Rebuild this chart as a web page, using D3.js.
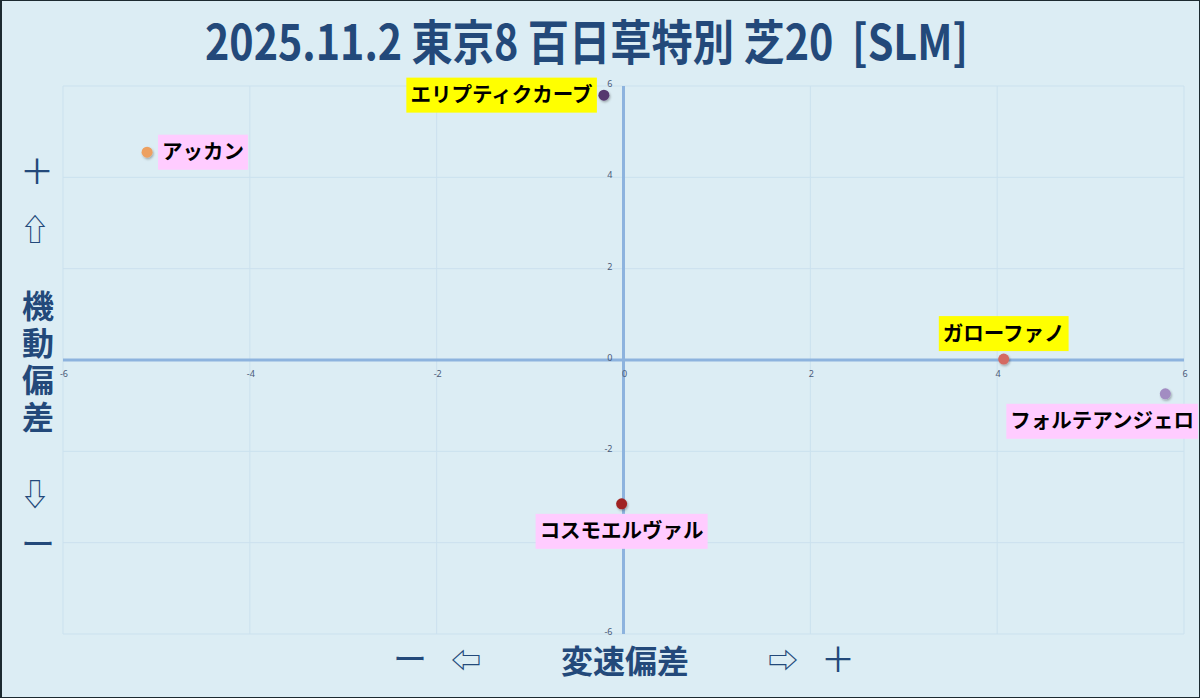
<!DOCTYPE html>
<html><head><meta charset="utf-8">
<script src="https://cdn.jsdelivr.net/npm/d3@7"></script>
<style>
html,body{margin:0;padding:0;background:#fff;}
svg{display:block;}
</style></head>
<body>
<script>
const names = ["アッカン","エリプティクカーブ","ガローファノ","フォルテアンジェロ","コスモエルヴァル"];
const xValues = [-5.10, -0.21, 4.07, 5.80, -0.02];
const yValues = [4.55, 5.80, 0.02, -0.74, -3.15];
const pointColors = ["#eda060","#55386e","#d46b62","#a28cc2","#a02420"];
const labelBg = ["#ffccff","#ffff00","#ffff00","#ffccff","#ffccff"];
const labelPlace = ["right","left","above","below","below"];
const xTicks = [-6,-4,-2,0,2,4,6];
const yTicks = [-6,-4,-2,0,2,4,6];
const title = "2025.11.2 東京8 百日草特別 芝20  [SLM]";

const W = 1200, H = 698;
const svg = d3.select("body").append("svg").attr("width", W).attr("height", H);
const defs = svg.append("defs");
const flt = defs.append("filter").attr("id","sh").attr("x","-50%").attr("y","-50%").attr("width","200%").attr("height","200%");
flt.append("feDropShadow").attr("dx",1).attr("dy",1.5).attr("stdDeviation",1).attr("flood-color","#000").attr("flood-opacity",0.3);

svg.append("rect").attr("x",0.5).attr("y",0.5).attr("width",W-1).attr("height",H-1)
  .attr("fill","#dcedf4").attr("stroke","#1c2a30").attr("stroke-width",1);
svg.append("line").attr("x1",1).attr("x2",1).attr("y1",0).attr("y2",H).attr("stroke","#1c2a30").attr("stroke-width",2);

const x = d3.scaleLinear().domain([-6,6]).range([63,1184]);
const y = d3.scaleLinear().domain([-6,6]).range([634,86]);

// grid
const g = svg.append("g");
g.selectAll(".vg").data(xTicks).enter().append("line")
  .attr("x1",d=>x(d)).attr("x2",d=>x(d)).attr("y1",y(6)).attr("y2",y(-6))
  .attr("stroke","#cbe1ee").attr("stroke-width",1);
g.selectAll(".hg").data(yTicks).enter().append("line")
  .attr("y1",d=>y(d)).attr("y2",d=>y(d)).attr("x1",x(-6)).attr("x2",x(6))
  .attr("stroke","#cbe1ee").attr("stroke-width",1);

// zero axes
g.append("line").attr("x1",x(-6)).attr("x2",x(6)).attr("y1",y(0)).attr("y2",y(0))
  .attr("stroke","#8db3de").attr("stroke-width",3);
g.append("line").attr("x1",x(0)).attr("x2",x(0)).attr("y1",y(6)).attr("y2",y(-6))
  .attr("stroke","#8db3de").attr("stroke-width",3);

// tick labels
g.selectAll(".xt").data(xTicks).enter().append("text")
  .attr("x",d=>x(d)+1).attr("y",y(0)+17).attr("text-anchor","middle")
  .attr("font-family","Noto Sans, sans-serif").attr("font-size",9).attr("fill","#4a5a78")
  .text(d=>d);
g.selectAll(".yt").data(yTicks).enter().append("text")
  .attr("x",x(0)-11).attr("y",d=>y(d)+1).attr("text-anchor","end")
  .attr("font-family","Noto Sans, sans-serif").attr("font-size",9).attr("fill","#4a5a78")
  .text(d=>d);

// title
svg.append("text").attr("x",205).attr("y",60).style("white-space","pre")
  .attr("font-family","Noto Sans CJK JP").attr("font-weight","bold").attr("font-size",48)
  .attr("fill","#23497a").attr("textLength",763).attr("lengthAdjust","spacingAndGlyphs")
  .text(title);

// y axis label
const yl = svg.append("g").attr("font-family","Noto Sans CJK JP").attr("font-weight","bold").attr("fill","#23497a").attr("text-anchor","middle");
yl.append("text").attr("x",37).attr("y",184).attr("font-size",34).attr("font-weight","normal").text("＋");
yl.append("text").attr("x",35).attr("y",240).attr("font-size",30).attr("font-weight","normal").text("⇧");
["機","動","偏","差"].forEach((c,i)=>{
  yl.append("text").attr("x",38).attr("y",318+i*37).attr("font-size",32).text(c);
});
yl.append("text").attr("x",35).attr("y",505).attr("font-size",30).attr("font-weight","normal").text("⇩");
yl.append("text").attr("x",38).attr("y",557).attr("font-size",34).attr("font-weight","normal").text("ー");

// x axis label
const xl = svg.append("g").attr("font-family","Noto Sans CJK JP").attr("fill","#23497a").attr("text-anchor","middle");
xl.append("text").attr("x",410).attr("y",672).attr("font-size",34).text("ー");
xl.append("text").attr("x",466).attr("y",671).attr("font-size",30).text("⇦");
xl.append("text").attr("x",625).attr("y",673).attr("font-size",32).attr("font-weight","bold").text("変速偏差");
xl.append("text").attr("x",783).attr("y",671).attr("font-size",30).text("⇨");
xl.append("text").attr("x",838).attr("y",672).attr("font-size",34).text("＋");

// points
const data = names.map((n,i)=>({n, x:xValues[i], y:yValues[i], c:pointColors[i], bg:labelBg[i], p:labelPlace[i]}));
svg.selectAll(".pt").data(data).enter().append("circle")
  .attr("cx",d=>x(d.x)).attr("cy",d=>y(d.y)).attr("r",5.5)
  .attr("fill",d=>d.c).attr("filter","url(#sh)");

// labels
const lg = svg.append("g");
data.forEach(d=>{
  const px = x(d.x), py = y(d.y);
  const t = lg.append("text").attr("font-family","Noto Sans CJK JP").attr("font-weight","bold")
    .attr("font-size",20.5).attr("fill","#000").text(d.n);
  const bb = t.node().getBBox();
  const bw = bb.width + 8, bh = 35;
  let bx, by;
  if (d.p==="right"){ bx = px+11; by = py-bh/2; }
  else if (d.p==="left"){ bx = px-7-bw; by = py-bh/2; }
  else if (d.p==="above"){ bx = px-bw/2; by = py-43; }
  else { bx = px-bw/2; by = py+10; }
  if (bx+bw > W-2) bx = W-2-bw;
  lg.insert("rect","text").attr("x",bx).attr("y",by).attr("width",bw).attr("height",bh).attr("fill",d.bg);
  t.attr("x",bx+bw/2).attr("text-anchor","middle").attr("y",by+bh/2+7);
});
</script>
</body></html>
